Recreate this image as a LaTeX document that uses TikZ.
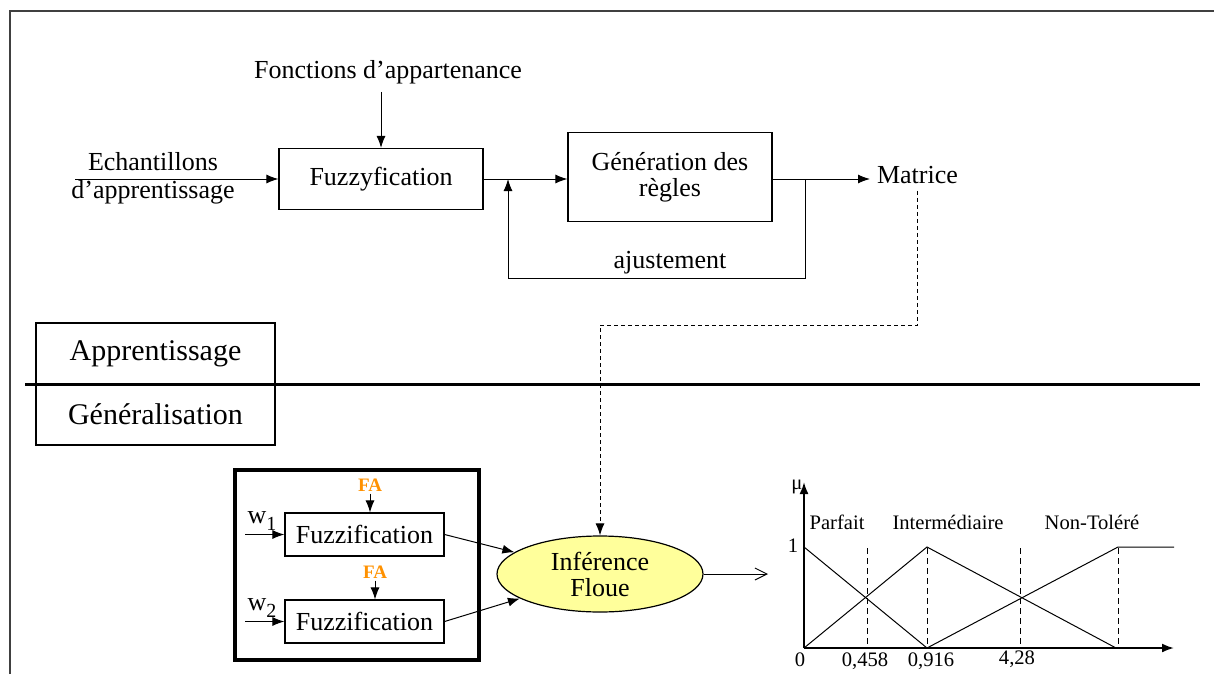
\documentclass[tikz,border=0pt]{standalone}
\usepackage{fontspec}
\setmainfont{Liberation Serif}
\usetikzlibrary{arrows.meta, shapes.geometric}

\definecolor{orangeFA}{RGB}{255,145,0}
\definecolor{jaune}{RGB}{255,255,155}

\begin{document}
\begin{tikzpicture}[x=0.5pt, y=-0.5pt, >={Latex[length=6pt,width=4.5pt]},
  txt/.style={font=\fontsize{13}{13}\selectfont, align=center},
  bloc/.style={txt, draw, line width=0.6pt, minimum width=102pt, minimum height=30.5pt, inner sep=2pt},
  cadre/.style={draw, line width=0.6pt, minimum width=119.5pt, minimum height=30.5pt, font=\fontsize{15}{15}\selectfont},
  fuzz/.style={txt, draw, line width=0.6pt, minimum width=79.5pt, minimum height=21.5pt, inner sep=1pt},
  petit/.style={font=\fontsize{10.3}{12}\selectfont, inner sep=1pt},
  fa/.style={font=\fontsize{9.5}{11}\selectfont\bfseries, text=orangeFA, inner sep=1pt},
  pointille/.style={dash pattern=on 2pt off 1.5pt, line width=0.5pt},
  fleche/.style={->, line width=0.5pt}]
  \useasboundingbox (0,0) rectangle (1214,674);
  % cadre de la page
  \draw[line width=0.8pt, black!75] (10,674) -- (10,11) -- (1214,11);

  % apprentissage
  \node[txt] (fonct) at (388,72) {Fonctions d’appartenance};
  \node[bloc] (fuzzy) at (381,179) {Fuzzyfication};
  \node[bloc, minimum height=44.5pt] (gen) at (670,177) {Génération des\\règles};
  \node[txt] (ech) at (153,178) {Echantillons\\[1pt]d’apprentissage};
  \node[txt, anchor=west] (mat) at (870,175) {Matrice};
  \coordinate (ech-in) at (75,179);
  \coordinate (fonct-pied) at (381,92);
  \coordinate (bif) at (805,179);
  \coordinate (ret) at (508,179);

  \draw[fleche] (fonct-pied) -- (fuzzy.north);
  \draw[fleche] (ech-in) -- (fuzzy.west);
  \draw[fleche] (fuzzy.east) -- (fuzzy.east -| gen.west);
  \draw[fleche] (gen.east |- bif) -- (bif -| mat.west);
  \draw[fleche] (bif) -- ++(0,99) -| (ret);
  \node[txt] (ajust) at (670,263) {ajustement};

  % separation
  \node[cadre] (app) at (155.5,353.5) {Apprentissage};
  \node[cadre] (gener) at (155.5,414.5) {Généralisation};
  \draw[line width=1.5pt] (25,384) -- (1200,384);

  % generalisation
  \draw[line width=1.8pt] (235,470) rectangle (479,660);
  \node[fuzz] (f1) at (364.5,534.5) {Fuzzification};
  \node[fuzz] (f2) at (364.5,621.5) {Fuzzification};
  \node[fa] (fa1) at (370,485) {FA};
  \node[fa] (fa2) at (375,572) {FA};
  \node[txt, inner sep=0pt] (w1) at (262,521) {w\raisebox{-0.6ex}{\fontsize{10}{10}\selectfont 1}};
  \node[txt, inner sep=0pt] (w2) at (262,608) {w\raisebox{-0.6ex}{\fontsize{10}{10}\selectfont 2}};
  \coordinate (w1-in) at (245,534.5);
  \coordinate (w2-in) at (245,621.5);
  \draw[fleche] (fa1) -- (fa1 |- f1.north);
  \draw[fleche] (fa2) -- (fa2 |- f2.north);
  \draw[fleche] (w1-in) -- (f1.west);
  \draw[fleche] (w2-in) -- (f2.west);

  \node[txt, ellipse, draw, line width=0.6pt, fill=jaune, minimum width=103pt, minimum height=38pt, inner sep=0pt] (inf) at (600,574) {Inférence\\Floue};
  \draw[fleche] (f1.east) -- (inf);
  \draw[fleche] (f2.east) -- (inf);
  \draw[pointille, ->] (mat.south) |- (inf.north |- 0,325) -- (inf.north);
  \coordinate (graphe-in) at (768,574);
  \draw[line width=0.5pt, -{Straight Barb[length=6pt,width=6pt]}] (inf.east) -- (graphe-in);

  % fonctions d'appartenance
  \draw[line width=1pt, -{Latex[length=6pt,width=4.5pt]}] (804,648) -- (804,482);
  \draw[line width=1pt, -{Latex[length=6pt,width=4.5pt]}] (804,648) -- (1174,648);
  \draw[line width=0.5pt] (804,547) -- (927,648);
  \draw[line width=0.5pt] (804,648) -- (927,547) -- (1116,648);
  \draw[line width=0.5pt] (927,648) -- (1118,547) -- (1174,547);
  \foreach \xv in {867,927,1020,1118}
    \draw[line width=0.5pt, dash pattern=on 3pt off 2pt] (\xv,548) -- (\xv,648);
  \node[petit] (mu) at (797,487) {μ};
  \node[petit] (un) at (793,546) {1};
  \node[petit] (zero) at (800,660) {0};
  \node[petit] (parf) at (837,522) {Parfait};
  \node[petit] (inter) at (948,522) {Intermédiaire};
  \node[petit] (nontol) at (1092,522) {Non-Toléré};
  \node[petit] (t1) at (865,661) {0,458};
  \node[petit] (t2) at (931,661) {0,916};
  \node[petit] (t3) at (1017,659) {4,28};
\end{tikzpicture}
\end{document}
